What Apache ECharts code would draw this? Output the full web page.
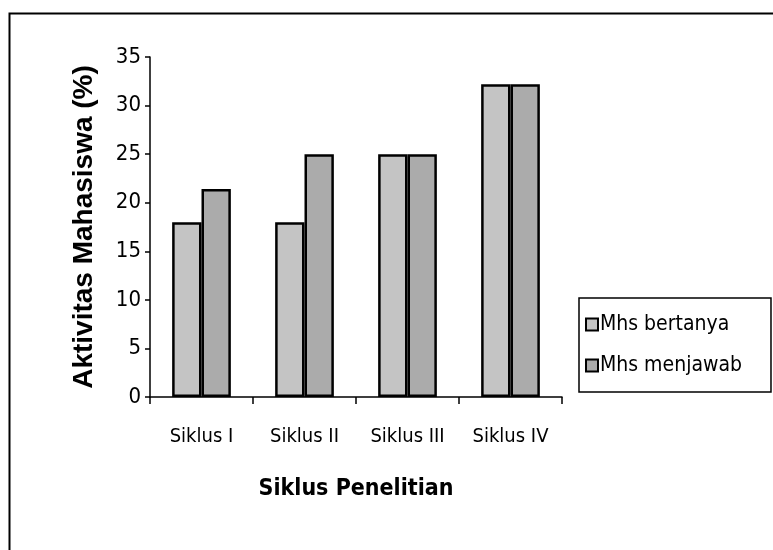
<!DOCTYPE html>
<html style="height: 100%">
  <head>
    <meta charset="utf-8" />
  </head>
  <body style="height: 100%; margin: 0; background: #fff">
    <div id="container" style="width: 773px; height: 550px"></div>

    <script
      type="text/javascript"
      src="https://cdn.jsdelivr.net/npm/echarts@6/dist/echarts.min.js"
    ></script>

    <script type="text/javascript">
      var categories = ["Siklus I", "Siklus II", "Siklus III", "Siklus IV"];
      var seriesNames = ["Mhs bertanya", "Mhs menjawab"];
      var bertanya = [18, 18, 25, 32.2];
      var menjawab = [21.4, 25, 25, 32.2];

      var narrow = "'DejaVu Sans Condensed', 'Arial Narrow', Arial, sans-serif";

      var dom = document.getElementById("container");
      var myChart = echarts.init(dom);

      var option = {
        backgroundColor: "#fff",
        animation: false,
        graphic: [
          {
            type: "rect",
            left: 7,
            top: 11,
            shape: { width: 800, height: 600 },
            style: { fill: "none", stroke: "#000", lineWidth: 2 },
            silent: true,
          },
        ],
        grid: {
          left: 150,
          right: 211,
          top: 57,
          bottom: 153,
        },
        legend: {
          orient: "vertical",
          left: 579,
          top: 298,
          data: seriesNames,
          icon: "rect",
          itemWidth: 12,
          itemHeight: 12,
          itemGap: 20,
          padding: [16, 29, 16, 6],
          borderColor: "#000",
          borderWidth: 1.5,
          textStyle: {
            fontFamily: narrow,
            fontSize: 21,
            color: "#000",
            padding: [0, 0, 0, -3],
          },
        },
        xAxis: {
          type: "category",
          data: categories,
          name: "Siklus Penelitian",
          nameLocation: "middle",
          nameGap: 81,
          nameTextStyle: {
            fontFamily: narrow,
            fontWeight: "bold",
            fontSize: 23,
            color: "#000",
          },
          axisLine: { lineStyle: { color: "#000", width: 1.5 } },
          axisTick: { show: true, length: 7, lineStyle: { color: "#000", width: 1.5 } },
          axisLabel: {
            margin: 30,
            fontFamily: narrow,
            fontSize: 20,
            color: "#000",
          },
        },
        yAxis: {
          type: "value",
          min: 0,
          max: 35,
          interval: 5,
          name: "Aktivitas Mahasiswa (%)",
          nameLocation: "middle",
          nameRotate: 90,
          nameGap: 52,
          nameTextStyle: {
            fontFamily: "Liberation Sans, Arial, sans-serif",
            fontWeight: "bold",
            fontSize: 28,
            color: "#000",
          },
          axisLine: { show: true, lineStyle: { color: "#000", width: 1.5 } },
          axisTick: { show: true, length: 5, lineStyle: { color: "#000", width: 1.5 } },
          splitLine: { show: false },
          axisLabel: {
            margin: 9,
            fontFamily: narrow,
            fontSize: 22,
            color: "#000",
          },
        },
        series: [
          {
            name: seriesNames[0],
            type: "bar",
            data: bertanya,
            barGap: "0%",
            barCategoryGap: "43%",
            itemStyle: { color: "#c4c4c4", borderColor: "#000", borderWidth: 2.5 },
          },
          {
            name: seriesNames[1],
            type: "bar",
            data: menjawab,
            itemStyle: { color: "#ababab", borderColor: "#000", borderWidth: 2.5 },
          },
        ],
      };

      myChart.setOption(option);
    </script>
  </body>
</html>
